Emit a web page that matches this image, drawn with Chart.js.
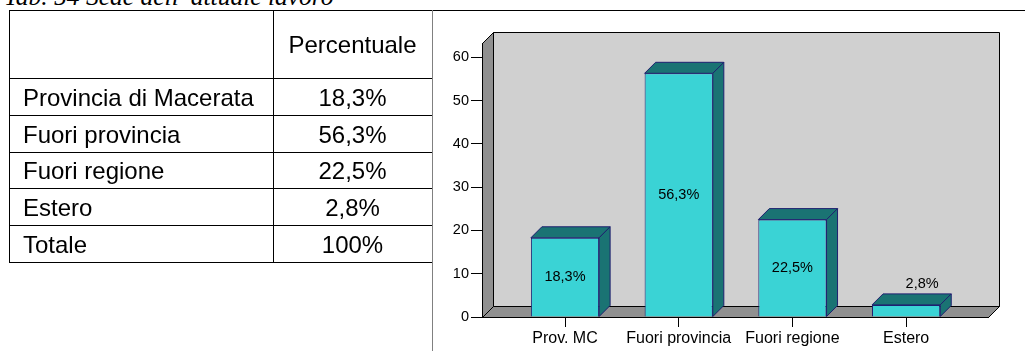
<!DOCTYPE html>
<html><head><meta charset="utf-8">
<script src="https://cdn.jsdelivr.net/npm/chart.js@4.4.0/dist/chart.umd.min.js"></script>
<style>
html,body{margin:0;padding:0;background:#fff;width:1025px;height:351px;overflow:hidden;position:relative;font-family:'Liberation Sans',Arial,sans-serif;}
#c{position:absolute;left:0;top:0;}
.hl{position:absolute;height:1px;background:#000;}
.vl{position:absolute;width:1px;background:#000;}
.cell{position:absolute;font-size:24px;color:#000;white-space:nowrap;box-sizing:border-box;padding-top:2px;}
#title{position:absolute;left:4px;top:-15px;font:italic 25.5px/24px 'Liberation Serif','Times New Roman',serif;white-space:nowrap;}
</style></head><body>
<div id="title">Tab. 54 Sede dell’ attuale lavoro</div>
<canvas id="c" width="1025" height="351"></canvas>
<div id="tbl"></div>
<script>
// ---- data ----
const categories = ['Prov. MC', 'Fuori provincia', 'Fuori regione', 'Estero'];
const values = [18.3, 56.3, 22.5, 2.8];
const yTicks = [0, 10, 20, 30, 40, 50, 60];
const tableHeader = 'Percentuale';
const tableLabels = ['Provincia di Macerata', 'Fuori provincia', 'Fuori regione', 'Estero', 'Totale'];
const tableValues = ['18,3%', '56,3%', '22,5%', '2,8%', '100%'];

// ---- table (layout) ----
const rowEdges = [10, 78, 115, 152, 188, 225, 262];
const tblLeft = 9, colDiv = 273, tblRight = 432;
const tbl = document.getElementById('tbl');
function add(cls, style, text) {
  const d = document.createElement('div'); d.className = cls;
  Object.assign(d.style, style); if (text !== undefined) d.textContent = text;
  tbl.appendChild(d); return d;
}
rowEdges.forEach((y, i) => {
  add('hl', {left: tblLeft + 'px', top: y + 'px', width: ((i === 0 ? 1025 : tblRight) - tblLeft) + 'px'});
});
add('vl', {left: tblLeft + 'px', top: rowEdges[0] + 'px', height: (rowEdges[6] - rowEdges[0] + 1) + 'px'});
add('vl', {left: colDiv + 'px', top: rowEdges[0] + 'px', height: (rowEdges[6] - rowEdges[0] + 1) + 'px'});
add('vl', {left: tblRight + 'px', top: rowEdges[0] + 'px', height: (351 - rowEdges[0]) + 'px', background: '#808080'});
function cellText(text, row, col) {
  const top = rowEdges[row], h = rowEdges[row + 1] - top;
  const st = {top: top + 'px', height: h + 'px', lineHeight: (h - 2) + 'px'};
  if (col === 0) { st.left = (tblLeft + 14) + 'px'; }
  else { st.left = colDiv + 'px'; st.width = (tblRight - colDiv) + 'px'; st.textAlign = 'center'; }
  add('cell', st, text);
}
cellText(tableHeader, 0, 1);
tableLabels.forEach((t, i) => { cellText(t, i + 1, 0); cellText(tableValues[i], i + 1, 1); });

// ---- chart ----
const fmt = v => v.toFixed(1).replace('.', ',') + '%';
const DEPTH = 11;
function poly(ctx, pts, fill, stroke) {
  ctx.beginPath();
  pts.forEach((p, i) => i ? ctx.lineTo(p[0], p[1]) : ctx.moveTo(p[0], p[1]));
  ctx.closePath();
  ctx.fillStyle = fill; ctx.fill();
  ctx.strokeStyle = stroke; ctx.lineWidth = 1; ctx.stroke();
}
const threeD = {
  id: 'threeD',
  beforeDraw(chart) {
    const {ctx, chartArea: a} = chart; const d = DEPTH;
    const L = a.left + 0.5, R = a.right + 0.5, T = a.top + 0.5, B = a.bottom + 0.5;
    ctx.save();
    poly(ctx, [[L + d, T - d], [R + d, T - d], [R + d, B - d], [L + d, B - d]], '#D0D0D0', '#000');
    poly(ctx, [[L, T], [L + d, T - d], [L + d, B - d], [L, B]], '#909090', '#000');
    poly(ctx, [[L, B], [L + d, B - d], [R + d, B - d], [R, B]], '#909090', '#000');
    ctx.restore();
  },
  afterDatasetsDraw(chart) {
    const {ctx} = chart; const d = DEPTH;
    const meta = chart.getDatasetMeta(0);
    ctx.save();
    meta.data.forEach((bar, i) => {
      const {x, y, base, width} = bar.getProps(['x', 'y', 'base', 'width'], true);
      const l = x - width / 2, r = x + width / 2;
      poly(ctx, [[l, y], [l + d, y - d], [r + d, y - d], [r, y]], '#1A7373', '#1F2070');
      poly(ctx, [[r, y], [r + d, y - d], [r + d, base - d], [r, base]], '#1A7373', '#1F2070');
      ctx.fillStyle = '#000';
      ctx.font = '14.5px "Liberation Sans", Arial, sans-serif';
      ctx.textAlign = 'center'; ctx.textBaseline = 'middle';
      const txt = fmt(values[i]);
      if (base - y > 30) ctx.fillText(txt, x, (y + base) / 2);
      else ctx.fillText(txt, x + d + 5, y - d - 10);
    });
    ctx.restore();
  }
};

Chart.defaults.font.family = "'Liberation Sans', Arial, sans-serif";
Chart.defaults.color = '#000';

new Chart(document.getElementById('c'), {
  type: 'bar',
  data: {
    datasets: [{
      data: values.map((v, i) => ({x: i, y: v})),
      backgroundColor: '#3AD3D5',
      borderColor: '#1F2070',
      borderWidth: 1,
      barPercentage: 0.6,
      categoryPercentage: 1.0
    }]
  },
  options: {
    responsive: false,
    devicePixelRatio: 1,
    animation: false,
    layout: {padding: {top: 43, right: 37, bottom: 0, left: 0}},
    plugins: {legend: {display: false}, tooltip: {enabled: false}},
    scales: {
      x: {
        type: 'linear', min: -0.73, max: 3.72, offset: false,
        afterBuildTicks: s => { s.ticks = categories.map((c, i) => ({value: i})); },
        afterFit: s => { s.height = 34; },
        ticks: {callback: v => categories[v], font: {size: 16}, color: '#000', padding: 2, maxRotation: 0, autoSkip: false},
        grid: {offset: false, drawOnChartArea: false, drawTicks: true, tickLength: 10, color: '#000'},
        border: {display: true, color: '#000'}
      },
      y: {
        min: 0, max: 63.3,
        afterBuildTicks: s => { s.ticks = yTicks.map(v => ({value: v})); },
        afterFit: s => { s.width = 482; },
        ticks: {font: {size: 14.5}, color: '#000', padding: 2},
        grid: {drawOnChartArea: false, drawTicks: true, tickLength: 11, color: '#000'},
        border: {display: true, color: '#000'}
      }
    }
  },
  plugins: [threeD]
});
</script>
</body></html>
